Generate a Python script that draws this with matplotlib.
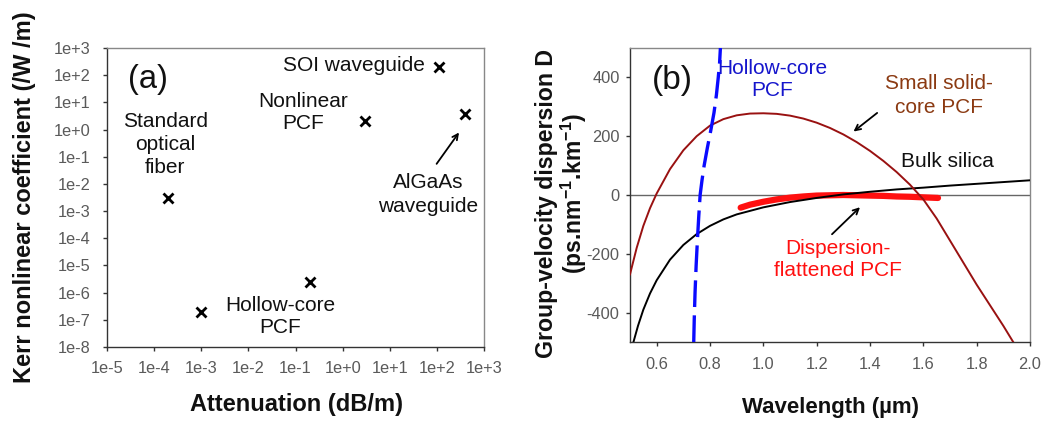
import matplotlib
matplotlib.use("Agg")
import matplotlib.pyplot as plt
from matplotlib.ticker import FixedLocator, NullLocator

plt.rcParams['font.family'] = ['Liberation Sans', 'DejaVu Sans']
plt.rcParams['mathtext.fontset'] = 'custom'
plt.rcParams['mathtext.rm'] = 'Liberation Sans'
plt.rcParams['mathtext.bf'] = 'Liberation Sans:bold'

# ---------------- Panel (a) data ----------------
attenuation = [2e-4, 1e-3, 0.2, 3.0, 110.0, 400.0]
kerr = [3e-3, 2e-7, 2.5e-6, 2.0, 200.0, 3.6]
a_ticks = [1e-5, 1e-4, 1e-3, 1e-2, 1e-1, 1e0, 1e1, 1e2, 1e3]
a_ticklabels = ['1e-5', '1e-4', '1e-3', '1e-2', '1e-1', '1e+0', '1e+1', '1e+2', '1e+3']
k_ticks = [1e-8, 1e-7, 1e-6, 1e-5, 1e-4, 1e-3, 1e-2, 1e-1, 1e0, 1e1, 1e2, 1e3]
k_ticklabels = ['1e-8', '1e-7', '1e-6', '1e-5', '1e-4', '1e-3', '1e-2', '1e-1',
                '1e+0', '1e+1', '1e+2', '1e+3']

# ---------------- Panel (b) data ----------------
bulk_wl = [0.513, 0.53, 0.55, 0.575, 0.6, 0.65, 0.7, 0.75, 0.8, 0.85, 0.9, 1.0, 1.1,
           1.2, 1.3, 1.4, 1.5, 1.6, 1.7, 1.8, 1.9, 2.0]
bulk_D = [-500, -445, -390, -335, -290, -220, -170, -133, -105, -83, -66, -42, -24,
          -10, 2, 11, 19, 25, 32, 38, 44, 50]

solid_wl = [0.5, 0.525, 0.55, 0.575, 0.6, 0.65, 0.7, 0.75, 0.8, 0.85, 0.9, 0.95, 1.0,
            1.05, 1.1, 1.15, 1.2, 1.25, 1.3, 1.35, 1.4, 1.45, 1.5, 1.55, 1.6, 1.65,
            1.7, 1.75, 1.8, 1.85, 1.9, 1.937]
solid_D = [-270, -180, -105, -45, 5, 88, 152, 200, 236, 258, 271, 277, 278,
           276, 270, 260, 246, 228, 206, 180, 150, 116, 78, 35, -15, -80,
           -155, -230, -305, -375, -445, -500]

hollow_wl = [0.739, 0.741, 0.744, 0.748, 0.753, 0.758, 0.763, 0.770, 0.778, 0.790,
             0.803, 0.815, 0.824, 0.831, 0.836, 0.839]
hollow_D = [-500, -420, -330, -240, -150, -70, 0, 50, 100, 160, 220, 280, 340,
            400, 450, 500]

flat_wl = [0.915, 0.95, 1.0, 1.05, 1.1, 1.15, 1.2, 1.25, 1.3, 1.35, 1.4, 1.45, 1.5,
           1.55, 1.6, 1.655]
flat_D = [-43, -33, -23, -15, -9, -5, -2, -1, 0, -1, -2, -3, -5, -6, -8, -10]

wl_ticks = [0.6, 0.8, 1.0, 1.2, 1.4, 1.6, 1.8, 2.0]
wl_ticklabels = ['0.6', '0.8', '1.0', '1.2', '1.4', '1.6', '1.8', '2.0']
d_ticks = [-400, -200, 0, 200, 400]
d_ticklabels = ['-400', '-200', '0', '200', '400']

W, H = 1053, 425
fig = plt.figure(figsize=(W / 100, H / 100), dpi=100)

tick_color = '#5a5a5a'
spine_dark = '#333333'
spine_light = '#888888'
ANN = 15


def style_axes(ax, xpad, ypad):
    ax.spines['left'].set_color(spine_dark)
    ax.spines['bottom'].set_color(spine_dark)
    ax.spines['top'].set_color(spine_light)
    ax.spines['right'].set_color(spine_light)
    for s in ax.spines.values():
        s.set_linewidth(1.0)
    ax.tick_params(axis='both', which='major', direction='out', length=3,
                   width=1, color=spine_dark, labelcolor=tick_color, labelsize=11.8,
                   top=False, right=False)
    ax.tick_params(axis='x', pad=xpad)
    ax.tick_params(axis='y', pad=ypad)


# ---------------- Panel (a) ----------------
ax1 = fig.add_axes([107 / W, 1 - 347 / H, 377 / W, 299 / H])
ax1.set_xscale('log')
ax1.set_yscale('log')
ax1.set_xlim(1e-5, 1e3)
ax1.set_ylim(1e-8, 1e3)
ax1.xaxis.set_major_locator(FixedLocator(a_ticks))
ax1.set_xticklabels(a_ticklabels)
ax1.yaxis.set_major_locator(FixedLocator(k_ticks))
ax1.set_yticklabels(k_ticklabels)
ax1.xaxis.set_minor_locator(NullLocator())
ax1.yaxis.set_minor_locator(NullLocator())
style_axes(ax1, xpad=7, ypad=9)

ax1.plot(attenuation, kerr, linestyle='none', marker='x', color='black',
         markersize=7, markeredgewidth=2)

txt = dict(fontsize=ANN, color='#111111', ha='center', va='center')
ax1.text(0.109, 0.893, '(a)', transform=ax1.transAxes, fontsize=23.5, ha='center',
         va='center', color='#111111')
ax1.text(0.654, 0.94, 'SOI waveguide', transform=ax1.transAxes, **txt)
ax1.text(0.521, 0.784, 'Nonlinear\nPCF', transform=ax1.transAxes, linespacing=1.15, **txt)
ax1.text(0.154, 0.677, 'Standard\noptical\nfiber', transform=ax1.transAxes,
         linespacing=1.28, **txt)
ax1.text(0.851, 0.51, 'AlGaAs\nwaveguide', transform=ax1.transAxes, linespacing=1.33, **txt)
ax1.text(0.459, 0.102, 'Hollow-core\nPCF', transform=ax1.transAxes, linespacing=1.25, **txt)
ax1.annotate('', xy=(0.938, 0.725), xytext=(0.87, 0.605), xycoords='axes fraction',
             textcoords='axes fraction',
             arrowprops=dict(arrowstyle='->', color='black', lw=1.3))

fig.text(25 / W, 1 - 197 / H, 'Kerr nonlinear coefficient (/W /m)', rotation=90,
         ha='center', va='center', fontsize=17, fontweight='bold', color='#111111')
fig.text(296 / W, 1 - 405 / H, 'Attenuation (dB/m)', ha='center', va='center',
         fontsize=17, fontweight='bold', color='#111111')

# ---------------- Panel (b) ----------------
ax2 = fig.add_axes([630 / W, 1 - 342 / H, 400 / W, 294 / H])
ax2.set_xlim(0.5, 2.0)
ax2.set_ylim(-500, 500)
ax2.xaxis.set_major_locator(FixedLocator(wl_ticks))
ax2.set_xticklabels(wl_ticklabels)
ax2.yaxis.set_major_locator(FixedLocator(d_ticks))
ax2.set_yticklabels(d_ticklabels)
style_axes(ax2, xpad=8, ypad=4.5)

ax2.axhline(0, color='#666666', lw=1.0, zorder=1)
ax2.plot(bulk_wl, bulk_D, color='black', lw=1.4, zorder=3)
ax2.plot(solid_wl, solid_D, color='#991111', lw=1.4, zorder=3)
ax2.plot(flat_wl, flat_D, color='#ff1010', lw=4.5, solid_capstyle='round', zorder=2)
ax2.plot(hollow_wl, hollow_D, color='#0a0aff', lw=2.4, dashes=(8, 2.5), zorder=4)

ax2.text(0.105, 0.891, '(b)', transform=ax2.transAxes, fontsize=24, ha='center',
         va='center', color='#111111')
ax2.text(0.355, 0.893, 'Hollow-core\nPCF', transform=ax2.transAxes, fontsize=ANN,
         ha='center', va='center', color='#1515cc', linespacing=1.2)
ax2.text(0.7725, 0.838, 'Small solid-\ncore PCF', transform=ax2.transAxes, fontsize=ANN,
         ha='center', va='center', color='#8b3a12', linespacing=1.33)
ax2.text(0.793, 0.613, 'Bulk silica', transform=ax2.transAxes, fontsize=ANN,
         ha='center', va='center', color='#111111')
ax2.text(0.52, 0.282, 'Dispersion-\nflattened PCF', transform=ax2.transAxes,
         fontsize=ANN, ha='center', va='center', color='#ff1010', linespacing=1.2)
ax2.annotate('', xy=(1.33, 210), xytext=(1.435, 285),
             arrowprops=dict(arrowstyle='->', color='black', lw=1.3))
ax2.annotate('', xy=(1.37, -35), xytext=(1.25, -140),
             arrowprops=dict(arrowstyle='->', color='black', lw=1.3))

fig.text(547 / W, 1 - 203 / H, 'Group-velocity dispersion D', rotation=90,
         ha='center', va='center', fontsize=16.7, fontweight='bold', color='#111111')
fig.text(574 / W, 1 - 193 / H, '(ps.nm$^{\\mathbf{-1}}$.km$^{\\mathbf{-1}}$)',
         rotation=90, ha='center', va='center', fontsize=16.5, fontweight='bold',
         color='#111111')
fig.text(830 / W, 1 - 407 / H, 'Wavelength (\u00b5m)', ha='center', va='center',
         fontsize=16, fontweight='bold', color='#111111')

fig.savefig('out.png', dpi=100)
